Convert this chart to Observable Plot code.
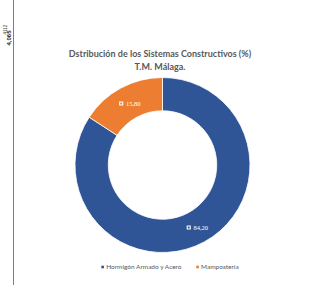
<!DOCTYPE html>
<html><head><meta charset="utf-8">
<script src="https://cdn.jsdelivr.net/npm/d3@7"></script>
<script src="https://cdn.jsdelivr.net/npm/@observablehq/plot@0.6"></script>
<style>html,body{margin:0;padding:0;background:#fff}svg{display:block}</style>
</head><body><div id="chart"></div>
<script>
// ---- data ----
const categories = ["Hormigón Armado y Acero", "Mampostería"];
const values = [84.20, 15.80];
const valueLabels = ["84,20", "15,80"];
const colors = ["#2F5597", "#ED7D31"];
const titleLines = ["Dstribución de los Sistemas Constructivos (%)", "T.M. Málaga."];
const sideLabel = "4,065";
const sideSup = "4112";

// ---- layout ----
const W = 319, H = 287;
const INNER = 0.62;
const LEGEND_CX = 170, LEGEND_Y = 267;
const textGray = "#595959";

const data = categories.map((c, i) => ({category: c, value: values[i], label: valueLabels[i]}));
const arcs = d3.pie().sort(null).value(d => d.value)(data);
const midR = (INNER + 1) / 2;
const labelData = arcs.map(a => {
  const m = (a.startAngle + a.endAngle) / 2;
  return {...a.data, x: Math.sin(m) * midR, y: Math.cos(m) * midR};
});

function donut(index, scales) {
  const cx = scales.x(0), cy = scales.y(0);
  const R = scales.x(1) - cx;
  const arcGen = d3.arc().innerRadius(R * INNER).outerRadius(R);
  const g = d3.create("svg:g").attr("transform", `translate(${cx},${cy})`);
  g.selectAll("path").data(arcs).join("path")
    .attr("d", arcGen)
    .attr("fill", d => scales.color(d.data.category))
    .attr("stroke", "#fff").attr("stroke-width", 0.8);
  return g.node();
}

function sideLine() {
  const g = d3.create("svg:g");
  g.append("line").attr("x1", 13.5).attr("x2", 13.5).attr("y1", 0).attr("y2", 285)
    .attr("stroke", "#7f7f7f").attr("stroke-width", 1);
  return g.node();
}

function legend(index, scales) {
  const fontSize = 6.5, fontFamily = "Lato";
  const ctx = document.createElement("canvas").getContext("2d");
  ctx.font = `${fontSize}px ${fontFamily}`;
  const sw = 2.6, gap = 2.2, itemGap = 14;
  const widths = categories.map(c => ctx.measureText(c).width);
  const total = d3.sum(widths) + categories.length * (sw + gap) + itemGap * (categories.length - 1);
  let x = LEGEND_CX - total / 2;
  const g = d3.create("svg:g").attr("text-anchor", "start");
  categories.forEach((c, i) => {
    g.append("rect").attr("x", x).attr("y", LEGEND_Y - sw / 2).attr("width", sw).attr("height", sw)
      .attr("fill", scales.color(c));
    g.append("text").attr("x", x + sw + gap).attr("y", LEGEND_Y).attr("dy", "0.35em")
      .attr("text-anchor", "start")
      .attr("font-size", fontSize).attr("font-family", fontFamily).attr("fill", textGray).text(c);
    x += sw + gap + widths[i] + itemGap;
  });
  return g.node();
}

const chart = Plot.plot({
  width: W, height: H, margin: 0,
  style: {background: "#fff", overflow: "visible"},
  x: {domain: [-1, 1], range: [75, 250], axis: null},
  y: {domain: [-1, 1], range: [252, 78], axis: null},
  color: {domain: categories, range: colors},
  marks: [
    sideLine,
    Plot.text([sideLabel], {frameAnchor: "top-left", dx: 6.5, dy: 45, rotate: -90, text: d => d,
      fontWeight: "bold", fontSize: 6, fill: "#222", fontFamily: "Liberation Sans"}),
    Plot.text([sideSup], {frameAnchor: "top-left", dx: 3.5, dy: 34, rotate: -90, text: d => d,
      fontSize: 4.5, fill: "#444", fontFamily: "Liberation Sans"}),
    Plot.text([titleLines.join("\n")], {frameAnchor: "top", dy: 47, lineAnchor: "top", lineHeight: 1.45,
      text: d => d, fontWeight: "bold", fontSize: 9, fill: textGray, fontFamily: "Lato"}),
    donut,
    Plot.dot(labelData, {x: "x", y: "y", fill: "category", r: 0, stroke: null}),
    Plot.dot(labelData, {x: "x", y: "y", symbol: "square", r: 1.7, stroke: "white", strokeWidth: 1.1, fill: "none", dx: -8}),
    Plot.text(labelData, {x: "x", y: "y", text: "label", fill: "white", fontSize: 6.5, dx: 4,
      fontFamily: "Liberation Serif"}),
    legend
  ]
});
document.getElementById("chart").append(chart);
</script>
</body></html>
